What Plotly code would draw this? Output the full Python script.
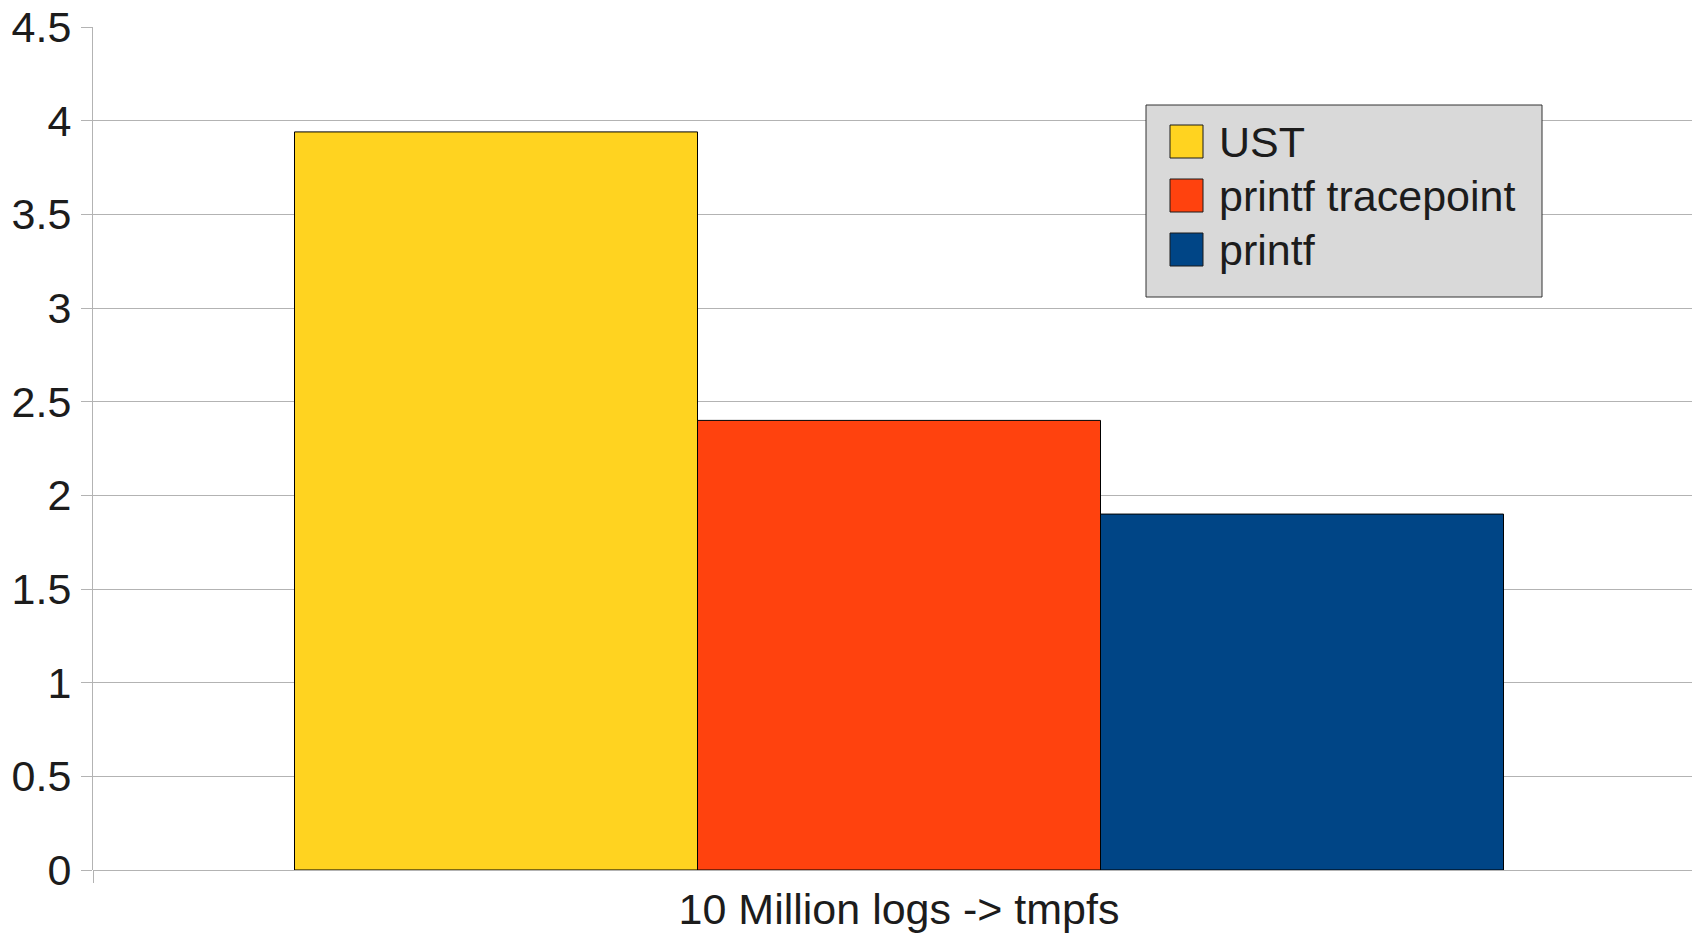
import plotly.graph_objects as go

# Benchmark: time to write 10 million log lines to tmpfs
category = "10 Million logs -> tmpfs"
series_names = ["UST", "printf tracepoint", "printf"]
series_values = [3.94, 2.40, 1.90]
series_colors = ["#ffd320", "#ff420e", "#004586"]
y_tick_values = [0, 0.5, 1, 1.5, 2, 2.5, 3, 3.5, 4, 4.5]
y_tick_labels = ["0", "0.5", "1", "1.5", "2", "2.5", "3", "3.5", "4", "4.5"]

W, H = 1692, 935
ML, MT, MB = 93, 27, 65
plot_w = W - ML
plot_h = H - MT - MB

FONT = "Liberation Sans, Arial, sans-serif"
TEXT = "#1c1c1c"
GRID = "#b3b3b3"

fig = go.Figure()
for name, val, col in zip(series_names, series_values, series_colors):
    fig.add_trace(go.Bar(
        x=[category], y=[val], name=name,
        marker=dict(color=col, line=dict(color="#000000", width=1)),
        showlegend=False,
    ))


# pixel -> paper helpers for the legend box
def px_x(p):
    return (p - ML) / plot_w


def px_y(p):
    return (H - MB - p) / plot_h


shapes = [dict(type="rect", xref="paper", yref="paper",
               x0=px_x(1146), x1=px_x(1542), y0=px_y(297), y1=px_y(105),
               fillcolor="#d9d9d9", line=dict(color="#333333", width=1), layer="above")]
annotations = []
row_top, row_step, sw = 125, 54, 33
for i, (name, col) in enumerate(zip(series_names, series_colors)):
    top = row_top + i * row_step
    shapes.append(dict(type="rect", xref="paper", yref="paper",
                       x0=px_x(1170), x1=px_x(1170 + sw), y0=px_y(top + sw), y1=px_y(top),
                       fillcolor=col, line=dict(color="#1a1a1a", width=1), layer="above"))
    annotations.append(dict(xref="paper", yref="paper", x=px_x(1217), y=px_y(top + sw / 2 + 1),
                            text=name, showarrow=False, xanchor="left", yanchor="middle",
                            font=dict(family=FONT, size=43, color=TEXT)))

fig.update_layout(
    width=W, height=H,
    margin=dict(l=ML, r=0, t=MT, b=MB, pad=0),
    paper_bgcolor="white", plot_bgcolor="white",
    barmode="group", bargap=0.25, bargroupgap=0,
    font=dict(family=FONT, size=43, color=TEXT),
    shapes=shapes, annotations=annotations,
    xaxis=dict(
        type="category", range=[-0.5, -0.5 + plot_w / 1612],
        showgrid=False, showline=False, zeroline=False,
        ticks="outside", tickson="boundaries", ticklen=12, tickcolor=GRID, tickwidth=1,
        ticklabelstandoff=10,
        tickfont=dict(family=FONT, size=43, color=TEXT),
    ),
    yaxis=dict(
        range=[0, 4.5], tickvals=y_tick_values, ticktext=y_tick_labels,
        showgrid=True, gridcolor=GRID, gridwidth=1,
        zeroline=True, zerolinecolor=GRID, zerolinewidth=1,
        showline=True, linecolor=GRID, linewidth=1,
        ticks="outside", ticklen=11, tickcolor=GRID, tickwidth=1,
        ticklabelstandoff=1,
        tickfont=dict(family=FONT, size=43, color=TEXT),
    ),
)

fig.write_html("out.html")
